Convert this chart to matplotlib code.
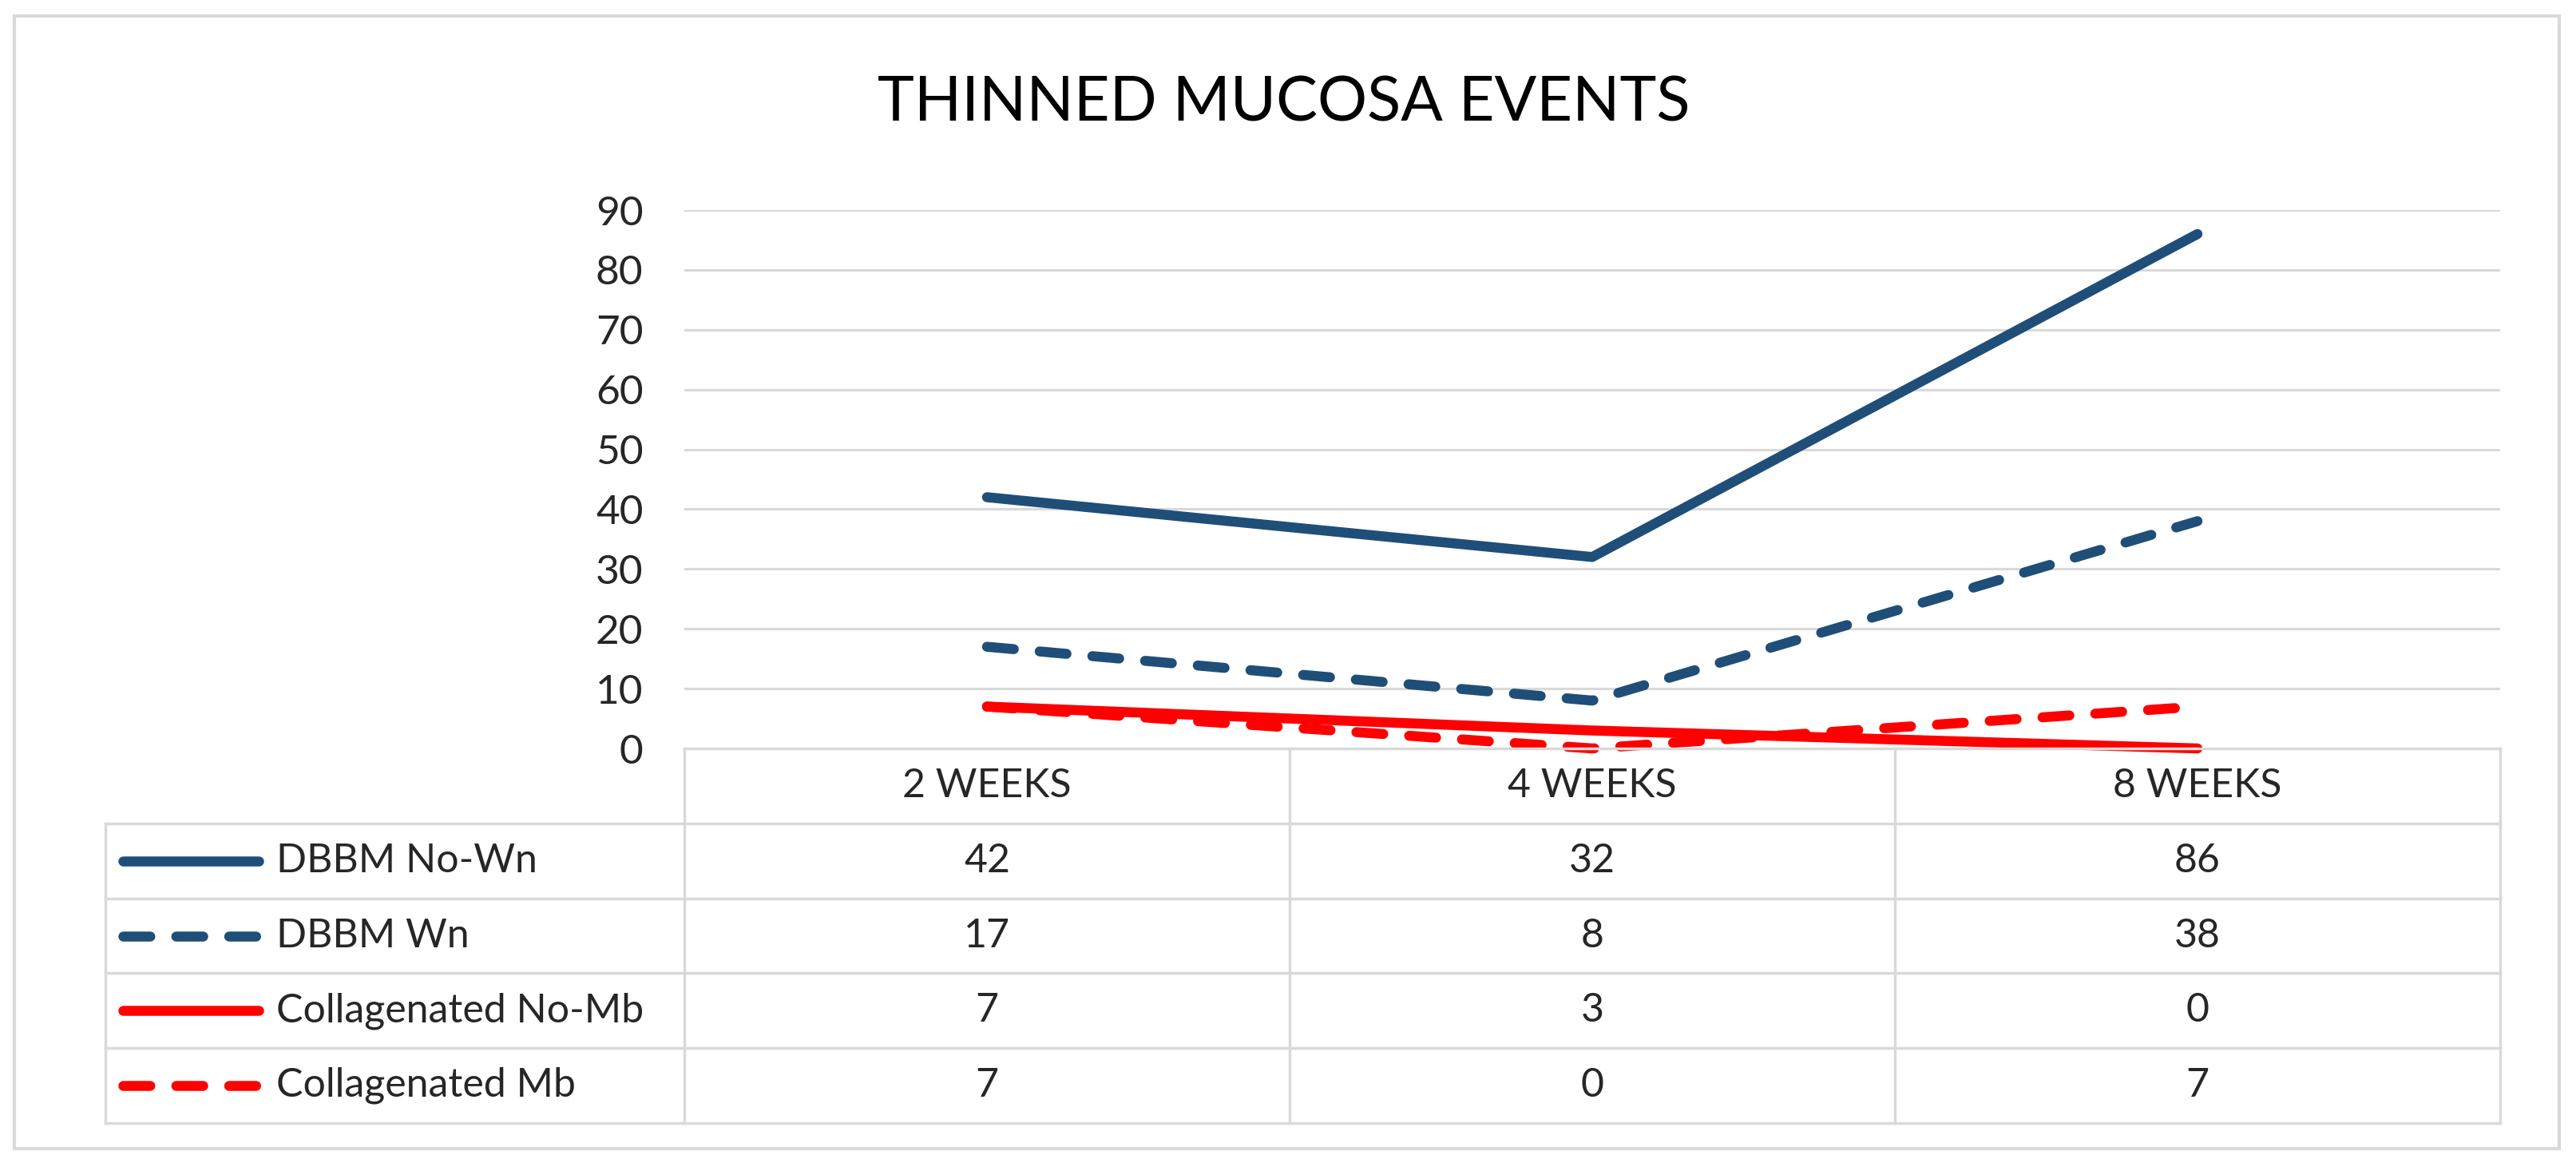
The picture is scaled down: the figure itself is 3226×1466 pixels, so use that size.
import matplotlib.pyplot as plt
from matplotlib.lines import Line2D
from matplotlib.patches import Rectangle
import matplotlib.transforms as mtransforms

plt.rcParams['font.family'] = ['Lato', 'DejaVu Sans']

# data
weeks = ["2 WEEKS", "4 WEEKS", "8 WEEKS"]
series_names = ["DBBM No-Wn", "DBBM Wn", "Collagenated No-Mb", "Collagenated Mb"]
dbbm_no_wn = [42, 32, 86]
dbbm_wn = [17, 8, 38]
coll_no_mb = [7, 3, 0]
coll_mb = [7, 0, 7]
y_ticks = [0, 10, 20, 30, 40, 50, 60, 70, 80, 90]

series_values = [dbbm_no_wn, dbbm_wn, coll_no_mb, coll_mb]
series_colors = ["#1F4E79", "#1F4E79", "#FF0000", "#FF0000"]
series_dashed = [False, True, False, True]

W, H = 3226, 1466
fig = plt.figure(figsize=(W / 100, H / 100), dpi=100)
fig.patch.set_facecolor("white")

text_col = "#262626"
grid_col = "#D9D9D9"

# layout in pixels
plot_left, plot_right = 857, 3131
plot_top, plot_bottom = 263, 937
table_left, table_bottom = 132, 1406

def px_axes(l, t, r, b):
    return fig.add_axes([l / W, 1 - b / H, (r - l) / W, (b - t) / H])

ax = px_axes(plot_left, plot_top, plot_right, plot_bottom)
ax.set_xlim(-0.5, len(weeks) - 0.5)
ax.set_ylim(0, 90)
ax.set_yticks(y_ticks)
ax.set_xticks([])
for s in ax.spines.values():
    s.set_visible(False)
ax.tick_params(axis="y", length=0, pad=37, labelsize=37, labelcolor=text_col)
ax.yaxis.grid(True, color=grid_col, linewidth=2.2)
ax.set_axisbelow(True)
ax.patch.set_alpha(0)

def style(dashed):
    if dashed:
        return dict(linestyle=(0, (2.7, 2.6)), dash_capstyle="round")
    return dict(linestyle="-", solid_capstyle="round")

x = list(range(len(weeks)))
for vals, col, dashed in zip(series_values, series_colors, series_dashed):
    ax.plot(x, vals, color=col, linewidth=9, clip_on=False, zorder=5,
            solid_joinstyle="round", **style(dashed))

fig.text(0.5 * (1101 + 2115) / W, 1 - 130 / H, "THINNED MUCOSA EVENTS",
         ha="center", va="center", fontsize=56, color="black")

# data table below the plot
tax = px_axes(table_left, plot_bottom, plot_right, table_bottom)
cat_px = (plot_right - plot_left) / len(weeks)
leg_left = -0.5 - (plot_left - table_left) / cat_px
tax.set_xlim(leg_left, len(weeks) - 0.5)
n_rows = len(series_names) + 1
tax.set_ylim(n_rows, 0)
tax.axis("off")

lkw = dict(color=grid_col, linewidth=2.5, solid_capstyle="projecting", clip_on=False)
tax.plot([-0.5, len(weeks) - 0.5], [0, 0], **lkw)
for r in range(1, n_rows + 1):
    tax.plot([leg_left, len(weeks) - 0.5], [r, r], **lkw)
tax.plot([leg_left, leg_left], [1, n_rows], **lkw)
for c in range(len(weeks) + 1):
    tax.plot([c - 0.5, c - 0.5], [0, n_rows], **lkw)

for i, w in enumerate(weeks):
    tax.text(i, 0.5, w, ha="center", va="center", fontsize=36, color=text_col)

blend = mtransforms.blended_transform_factory(tax.transAxes, tax.transData)
for r, (name, vals, col, dashed) in enumerate(
        zip(series_names, series_values, series_colors, series_dashed), start=1):
    for i, v in enumerate(vals):
        tax.text(i, r + 0.5, str(v), ha="center", va="center", fontsize=36, color=text_col)
    key = Line2D([0.0075, 0.064], [r + 0.5, r + 0.5], transform=blend, color=col,
                 linewidth=9, **style(dashed))
    tax.add_line(key)
    tax.text(0.0714, r + 0.5, name, transform=blend, ha="left", va="center",
             fontsize=36, color=text_col)

# outer chart border
fig.patches.append(Rectangle((18 / W, 1 - 1438 / H), (3205 - 18) / W, (1438 - 20) / H,
                             transform=fig.transFigure, fill=False,
                             edgecolor=grid_col, linewidth=3))

fig.savefig("out.png", dpi=100, facecolor="white")
